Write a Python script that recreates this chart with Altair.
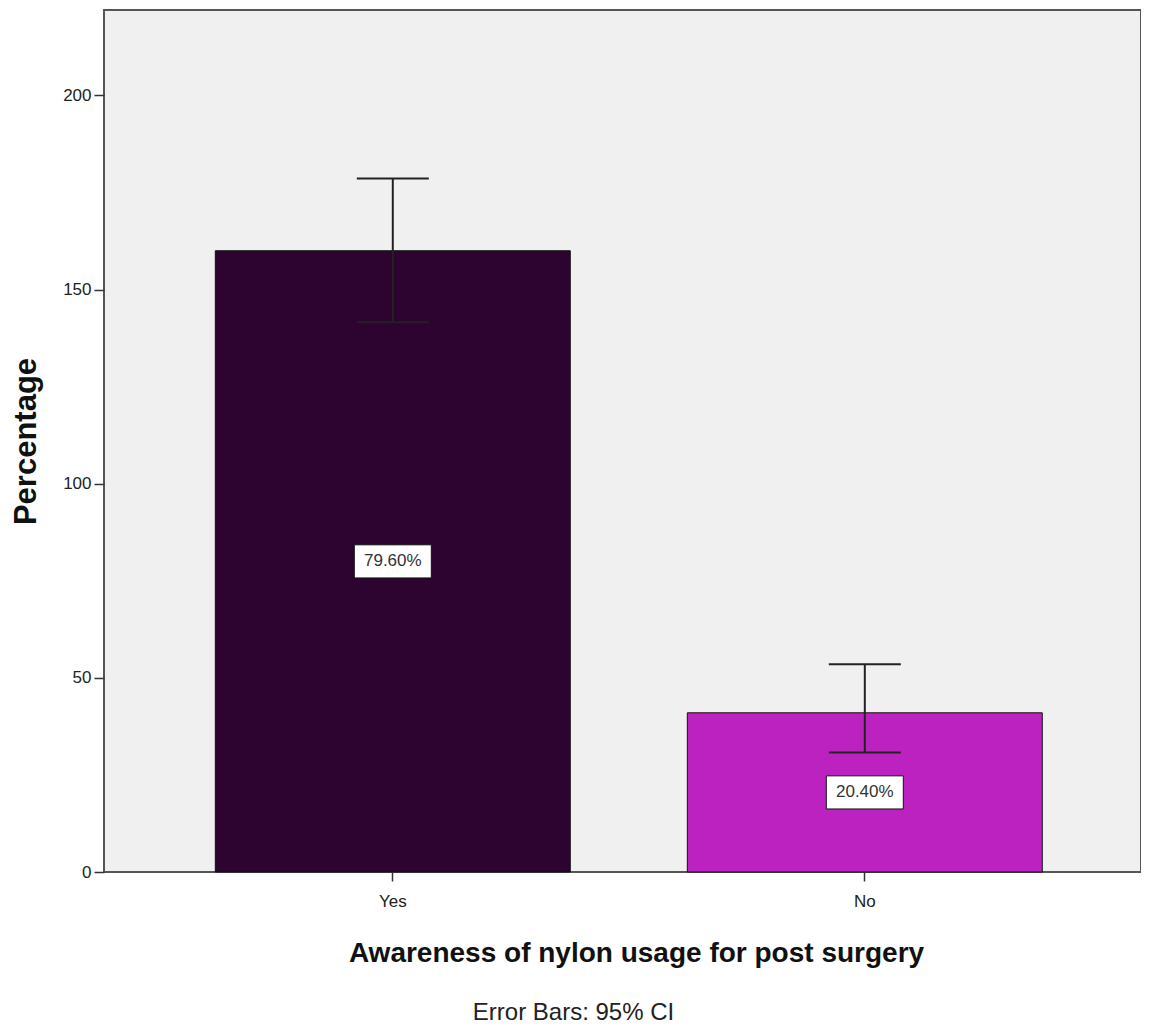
import altair as alt
import pandas as pd

categories = ["Yes", "No"]
counts = [160, 41]
ci_low = [141.6, 30.8]
ci_high = [178.6, 53.5]
pct_labels = ["79.60%", "20.40%"]
bar_colors = ["#2d0330", "#bb22c0"]

df = pd.DataFrame({
    "cat": categories,
    "count": counts,
    "lo": ci_low,
    "hi": ci_high,
    "label": pct_labels,
    "mid": [c / 2 for c in counts],
})

FONT = "Liberation Sans, Arial, sans-serif"

ydom = [0, 222]
x_enc = alt.X(
    "cat:N",
    sort=categories,
    scale=alt.Scale(paddingInner=0.248, paddingOuter=0.2225, align=0.53),
    axis=alt.Axis(
        title="Awareness of nylon usage for post surgery",
        labelAngle=0,
        labelFontSize=17,
        labelColor="#222",
        labelFont=FONT,
        labelPadding=12,
        tickSize=9,
        tickColor="#333",
        tickWidth=1.5,
        domain=False,
        titleFont=FONT,
        titleFontSize=28,
        titleFontWeight="bold",
        titleColor="#111",
        titlePadding=30,
        titleX=532,
        titleAlign="center",
        titleAnchor="start",
    ),
)

yscale = alt.Scale(domain=ydom, nice=False, zero=True)

base = alt.Chart(df).encode(x=x_enc)

bars = base.mark_bar(stroke="#111", strokeWidth=1, opacity=1).encode(
    y=alt.Y(
        "count:Q",
        scale=yscale,
        axis=alt.Axis(
            title="Percentage",
            values=[0, 50, 100, 150, 200],
            labelFontSize=17,
            labelColor="#222",
            labelFont=FONT,
            labelPadding=3,
            tickSize=10,
            tickColor="#333",
            tickWidth=1.5,
            domain=False,
            grid=False,
            titleFont=FONT,
            titleFontSize=31,
            titleFontWeight="bold",
            titleColor="#111",
            titlePadding=20,
        ),
    ),
    color=alt.Color("cat:N", scale=alt.Scale(domain=categories, range=bar_colors), legend=None),
)

err = base.mark_rule(color="#222", strokeWidth=2).encode(
    y=alt.Y("lo:Q", scale=yscale), y2="hi:Q"
)
cap_lo = base.mark_tick(color="#222", thickness=2, size=72, opacity=1).encode(
    y=alt.Y("lo:Q", scale=yscale)
)
cap_hi = base.mark_tick(color="#222", thickness=2, size=72, opacity=1).encode(
    y=alt.Y("hi:Q", scale=yscale)
)

box = base.mark_point(
    shape="M-1,-0.43L1,-0.43L1,0.43L-1,0.43Z",
    size=5929,
    filled=True,
    fill="white",
    stroke="#111",
    strokeWidth=1,
    opacity=1,
).encode(y=alt.Y("mid:Q", scale=yscale))

txt = base.mark_text(fontSize=17, color="#333", font=FONT).encode(
    y=alt.Y("mid:Q", scale=yscale), text="label:N"
)

chart = (
    alt.layer(bars, err, cap_lo, cap_hi, box, txt)
    .properties(
        width=1037,
        height=862,
        background="white",
        autosize=alt.AutoSizeParams(type="none"),
        padding={"left": 96, "top": 2, "right": 0, "bottom": 160},
        title=alt.TitleParams(
            text="Error Bars: 95% CI",
            orient="bottom",
            anchor="middle",
            fontSize=24,
            fontWeight="normal",
            font=FONT,
            color="#222",
            offset=34,
            dx=-49,
        ),
    )
    .configure_view(fill="#f0f0f0", stroke="#555", strokeWidth=2)
)

chart.save("out.html", embed_options={"renderer": "svg", "actions": False})
